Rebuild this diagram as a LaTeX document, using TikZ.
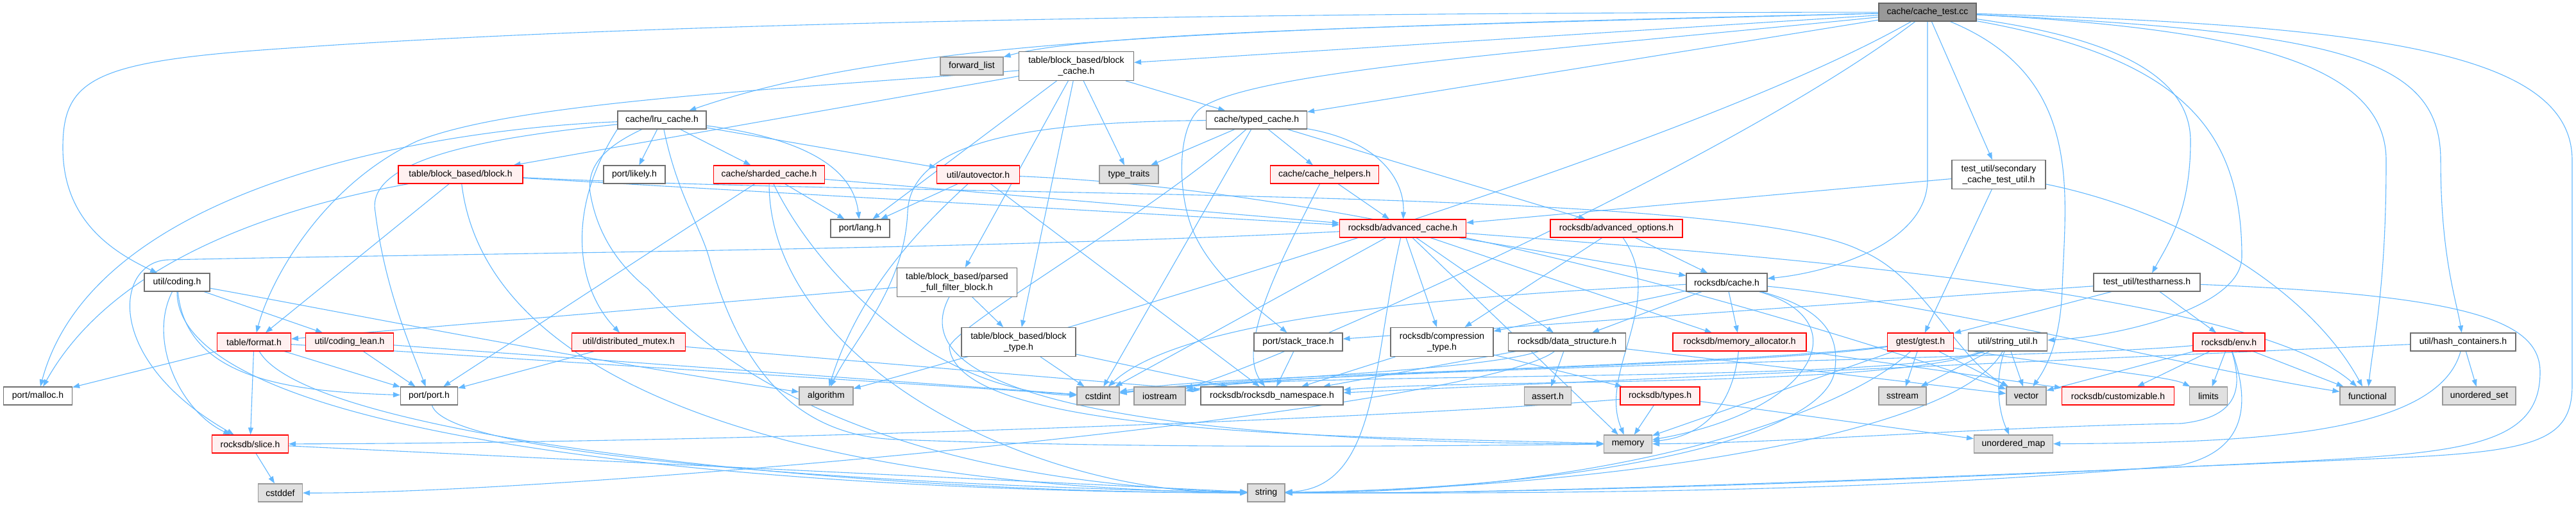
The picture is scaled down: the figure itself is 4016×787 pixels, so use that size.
\documentclass[tikz,border=0pt]{standalone}
\usepackage{fontspec}
\setmainfont{Liberation Sans}
\usetikzlibrary{arrows.meta,backgrounds}
\definecolor{edgeblue}{HTML}{63B8FF}
\definecolor{truncline}{HTML}{FF0000}
\definecolor{truncfill}{HTML}{FFF0F0}
\definecolor{sysfill}{HTML}{E0E0E0}
\definecolor{sysline}{HTML}{999999}
\definecolor{fileline}{HTML}{707070}
\definecolor{mainfill}{HTML}{999999}
\begin{document}
\begin{tikzpicture}[x=1pt,y=-1pt,
  incbox/.style={line width=1.15pt,minimum height=28pt,inner sep=0pt,align=center,font=\fontsize{14}{17}\selectfont},
  file/.style={incbox,draw=fileline,fill=white},
  sysfile/.style={incbox,draw=sysline,fill=sysfill},
  trunc/.style={incbox,draw=truncline,fill=truncfill},
  mainfile/.style={incbox,draw=fileline!90!black,fill=mainfill},
  tall/.style={minimum height=45pt},
  dep/.style={draw=edgeblue,line width=1.1pt,-{Triangle[length=11pt,width=8pt]}}]
\useasboundingbox (0,0) rectangle (4016,787);
% include graph of cache/cache_test.cc
\node[mainfile,minimum width=152pt] (cachetest) at (3005,19) {cache/cache\_test.cc};
\node[sysfile,minimum width=98pt] (fwdlist) at (1515,103) {forward\_list};
\node[file,tall,minimum width=179pt] (blockcache) at (1678,103) {table/block\_based/block\\\_cache.h};
\node[file,minimum width=138pt] (lrucache) at (1032,187) {cache/lru\_cache.h};
\node[file,minimum width=157pt] (typedcache) at (1959,187) {cache/typed\_cache.h};
\node[trunc,minimum width=194pt] (blockh) at (718,272) {table/block\_based/block.h};
\node[file,minimum width=96pt] (likely) at (989,272) {port/likely.h};
\node[trunc,minimum width=173pt] (shardedcache) at (1199,272) {cache/sharded\_cache.h};
\node[trunc,minimum width=129pt] (autovector) at (1525,272) {util/autovector.h};
\node[sysfile,minimum width=92pt] (typetraits) at (1760,272) {type\_traits};
\node[trunc,minimum width=169pt] (cachehelpers) at (2065,272) {cache/cache\_helpers.h};
\node[file,tall,minimum width=146pt] (secutil) at (3116,272) {test\_util/secondary\\\_cache\_test\_util.h};
\node[file,minimum width=92pt] (portlang) at (1341,356) {port/lang.h};
\node[trunc,minimum width=197pt] (advcache) at (2187,356) {rocksdb/advanced\_cache.h};
\node[trunc,minimum width=206pt] (advoptions) at (2520,356) {rocksdb/advanced\_options.h};
\node[file,minimum width=102pt] (coding) at (276,440) {util/coding.h};
\node[file,tall,minimum width=187pt] (parsedfilter) at (1492,440) {table/block\_based/parsed\\\_full\_filter\_block.h};
\node[file,minimum width=126pt] (rdbcache) at (2692,440) {rocksdb/cache.h};
\node[file,minimum width=166pt] (testharness) at (3347,440) {test\_util/testharness.h};
\node[trunc,minimum width=115pt] (tableformat) at (396,533) {table/format.h};
\node[trunc,minimum width=137pt] (codinglean) at (545,533) {util/coding\_lean.h};
\node[trunc,minimum width=177pt] (distmutex) at (980,533) {util/distributed\_mutex.h};
\node[file,tall,minimum width=178pt] (blocktype) at (1588,533) {table/block\_based/block\\\_type.h};
\node[file,minimum width=138pt] (stacktrace) at (2024,533) {port/stack\_trace.h};
\node[file,tall,minimum width=160pt] (comptype) at (2248,533) {rocksdb/compression\\\_type.h};
\node[file,minimum width=183pt] (datastruct) at (2443,533) {rocksdb/data\_structure.h};
\node[trunc,minimum width=208pt] (memalloc) at (2712,533) {rocksdb/memory\_allocator.h};
\node[trunc,minimum width=103pt] (gtest) at (2994,533) {gtest/gtest.h};
\node[file,minimum width=123pt] (stringutil) at (3130,533) {util/string\_util.h};
\node[trunc,minimum width=112pt] (envh) at (3475,533) {rocksdb/env.h};
\node[file,minimum width=164pt] (hashcont) at (3840,533) {util/hash\_containers.h};
\node[file,minimum width=107pt] (portmalloc) at (59,617) {port/malloc.h};
\node[file,minimum width=89pt] (portport) at (669,617) {port/port.h};
\node[sysfile,minimum width=84pt] (algorithm) at (1288,617) {algorithm};
\node[sysfile,minimum width=66pt] (cstdint) at (1712,617) {cstdint};
\node[sysfile,minimum width=80pt] (iostream) at (1808,617) {iostream};
\node[file,minimum width=222pt] (rdbns) at (1983,617) {rocksdb/rocksdb\_namespace.h};
\node[sysfile,minimum width=73pt] (asserth) at (2413,617) {assert.h};
\node[trunc,minimum width=124pt] (rdbtypes) at (2588,617) {rocksdb/types.h};
\node[sysfile,minimum width=74pt] (sstream) at (2966,617) {sstream};
\node[sysfile,minimum width=62pt] (vector) at (3159,617) {vector};
\node[trunc,minimum width=175pt] (customizable) at (3302,617) {rocksdb/customizable.h};
\node[sysfile,minimum width=59pt] (limits) at (3443,617) {limits};
\node[sysfile,minimum width=86pt] (functional) at (3691,617) {functional};
\node[sysfile,minimum width=114pt] (uset) at (3865,617) {unordered\_set};
\node[trunc,minimum width=119pt] (slice) at (390,692) {rocksdb/slice.h};
\node[sysfile,minimum width=75pt] (memory) at (2538,692) {memory};
\node[sysfile,minimum width=123pt] (umap) at (3139,692) {unordered\_map};
\node[sysfile,minimum width=69pt] (cstddef) at (437,768) {cstddef};
\node[sysfile,minimum width=58pt] (stdstring) at (1974,768) {string};
\begin{scope}[on background layer]
% cache/cache_test.cc
\foreach \t in {blockcache,typedcache,secutil}
  \draw[dep] (cachetest) -- (\t);
\draw[dep] (cachetest) .. controls (2200,40) and (1700,50) .. (fwdlist);
\draw[dep] (cachetest) .. controls (1900,45) and (1400,60) .. (lrucache);
\draw[dep] (cachetest.south) -- (3005,280) .. controls (3005,380) and (2850,425) .. (rdbcache);
\draw[dep] (cachetest) .. controls (3300,60) and (3415,120) .. (3415,220) .. controls (3415,330) and (3380,380) .. (testharness);
\draw[dep] (cachetest) .. controls (3500,45) and (3720,100) .. (3720,250) .. controls (3720,450) and (3700,530) .. (functional);
\draw[dep] (cachetest) .. controls (3650,50) and (3805,90) .. (3805,250) .. controls (3805,400) and (3830,470) .. (hashcont);
\draw[dep] (cachetest) .. controls (3400,90) and (3495,200) .. (3495,400) .. controls (3495,480) and (3300,525) .. (stringutil);
\draw[dep] (cachetest) .. controls (3250,120) and (3220,300) .. (3215,450) .. controls (3212,540) and (3185,580) .. (vector);
\draw[dep] (cachetest) .. controls (3700,40) and (4010,80) .. (4010,250) -- (4010,600) .. controls (4010,690) and (3950,705) .. (3700,715) .. controls (3000,745) and (2400,770) .. (stdstring);
\draw[dep] (cachetest) .. controls (2700,250) and (2000,560) .. (iostream);
\draw[dep] (cachetest) .. controls (2600,250) and (1500,560) .. (algorithm);
\draw[dep] (cachetest) .. controls (2400,80) and (1950,110) .. (1870,170) .. controls (1835,200) and (1835,300) .. (1860,360) .. controls (1890,430) and (1960,480) .. (stacktrace);
\draw[dep] (cachetest) .. controls (1500,20) and (800,50) .. (450,75) .. controls (150,95) and (98,120) .. (98,230) .. controls (98,340) and (170,390) .. (coding);
% cache/lru_cache.h
\foreach \t in {shardedcache,likely,autovector}
  \draw[dep] (lrucache) -- (\t);
\draw[dep] (lrucache) .. controls (1250,215) and (1330,260) .. (portlang);
\draw[dep] (lrucache.south west) .. controls (880,330) and (900,450) .. (distmutex);
\draw[dep] (lrucache) .. controls (700,200) and (150,280) .. (portmalloc);
\draw[dep] (lrucache) .. controls (750,215) and (570,250) .. (585,330) .. controls (600,450) and (640,540) .. (portport);
\draw[dep] (lrucache) .. controls (940,230) and (915,260) .. (920,300) .. controls (930,360) and (960,410) .. (1010,450) .. controls (1110,560) and (1350,750) .. (stdstring);
\draw[dep] (lrucache) .. controls (1055,300) and (1090,350) .. (1105,400) .. controls (1150,560) and (1230,680) .. (1400,685) .. controls (1800,700) and (2200,695) .. (memory);
% cache/typed_cache.h
\foreach \t in {typetraits,cachehelpers,cstdint,advoptions}
  \draw[dep] (typedcache) -- (\t);
\draw[dep] (typedcache) .. controls (2150,220) and (2190,280) .. (advcache);
\draw[dep] (typedcache) .. controls (1600,190) and (1420,220) .. (1415,330) .. controls (1410,450) and (1330,530) .. (algorithm);
\draw[dep] (typedcache) .. controls (1800,330) and (1500,500) .. (1480,540) .. controls (1490,680) and (2100,680) .. (memory);
% table/block_based/block_cache.h
\foreach \t in {typetraits,typedcache,portlang,parsedfilter,blocktype,blockh}
  \draw[dep] (blockcache) -- (\t);
\draw[dep] (blockcache) .. controls (1200,140) and (800,160) .. (650,220) .. controls (500,290) and (420,440) .. (tableformat);
% table/block_based/block.h
\draw[dep] (blockh) .. controls (450,320) and (180,400) .. (portmalloc);
\draw[dep] (blockh) -- (advcache);
\draw[dep] (blockh) -- (tableformat);
\draw[dep] (blockh) .. controls (1500,310) and (2700,290) .. (2900,390) .. controls (3000,430) and (3050,560) .. (vector);
\draw[dep] (blockh) .. controls (760,620) and (1300,760) .. (stdstring);
% cache/sharded_cache.h
\foreach \t in {portlang,portport,advcache}
  \draw[dep] (shardedcache) -- (\t);
\draw[dep] (shardedcache) .. controls (1270,420) and (1450,610) .. (cstdint);
\draw[dep] (shardedcache) .. controls (1200,560) and (1600,770) .. (stdstring);
% util/autovector.h
\draw[dep] (autovector) -- (portlang);
\draw[dep] (autovector) -- (rdbns);
\draw[dep] (autovector) .. controls (1440,350) and (1340,450) .. (algorithm);
\draw[dep] (autovector) .. controls (2200,300) and (2900,530) .. (vector);
% cache/cache_helpers.h
\draw[dep] (cachehelpers) -- (advcache);
\draw[dep] (cachehelpers) .. controls (2000,400) and (1925,540) .. (rdbns);
% test_util/secondary_cache_test_util.h
\draw[dep] (secutil) -- (advcache);
\draw[dep] (secutil) -- (gtest);
\draw[dep] (secutil) .. controls (3400,330) and (3600,450) .. (functional);
% rocksdb/advanced_cache.h
\foreach \t in {rdbcache,comptype,datastruct,memalloc,cstdint,memory}
  \draw[dep] (advcache) -- (\t);
\draw[dep] (advcache) .. controls (2700,395) and (3500,450) .. (functional);
\draw[dep] (advcache) .. controls (1500,390) and (700,395) .. (260,405) .. controls (180,410) and (160,560) .. (slice);
\draw[dep] (advcache) .. controls (2140,560) and (2150,760) .. (stdstring);
% rocksdb/advanced_options.h
\draw[dep] (advoptions) -- (rdbcache);
\draw[dep] (advoptions) -- (comptype);
\draw[dep] (advoptions) .. controls (2600,470) and (2490,580) .. (memory);
% util/coding.h
\draw[dep] (coding) -- (codinglean);
\draw[dep] (coding) .. controls (230,530) and (280,640) .. (slice);
\draw[dep] (coding) .. controls (290,590) and (450,610) .. (portport);
\draw[dep] (coding) .. controls (500,480) and (900,560) .. (algorithm);
\draw[dep] (coding) .. controls (276,700) and (1300,768) .. (stdstring);
% table/block_based/parsed_full_filter_block.h
\draw[dep] (parsedfilter) -- (blocktype);
\draw[dep] (parsedfilter) -- (tableformat);
\draw[dep] (parsedfilter) .. controls (1380,650) and (2000,690) .. (memory);
% rocksdb/cache.h
\foreach \t in {comptype,datastruct,memalloc}
  \draw[dep] (rdbcache) -- (\t);
\draw[dep] (rdbcache) .. controls (2300,460) and (1850,490) .. (cstdint);
\draw[dep] (rdbcache) .. controls (3000,470) and (3450,580) .. (functional);
\draw[dep] (rdbcache) .. controls (2900,500) and (2830,640) .. (memory);
\draw[dep] (rdbcache) .. controls (2840,480) and (2870,520) .. (2860,580) .. controls (2840,680) and (2500,760) .. (stdstring);
% test_util/testharness.h
\foreach \t in {envh,gtest,stacktrace}
  \draw[dep] (testharness) -- (\t);
\draw[dep] (testharness) .. controls (3850,460) and (3960,500) .. (3960,580) .. controls (3960,690) and (3850,705) .. (3600,718) .. controls (3000,748) and (2400,770) .. (stdstring);
% table/format.h
\foreach \t in {portmalloc,slice,portport,cstdint}
  \draw[dep] (tableformat) -- (\t);
\draw[dep] (tableformat) .. controls (480,680) and (1300,768) .. (stdstring);
% util/coding_lean.h, util/distributed_mutex.h, block_type.h, stack_trace.h
\draw[dep] (codinglean) -- (portport);
\draw[dep] (codinglean) -- (cstdint);
\draw[dep] (distmutex) -- (portport);
\draw[dep] (distmutex) -- (rdbns);
\draw[dep] (blocktype) -- (cstdint);
\draw[dep] (blocktype) -- (rdbns);
\draw[dep] (stacktrace) -- (rdbns);
% rocksdb/compression_type.h, rocksdb/data_structure.h
\draw[dep] (comptype) -- (rdbns);
\draw[dep] (comptype) -- (rdbtypes);
\foreach \t in {asserth,vector,rdbns}
  \draw[dep] (datastruct) -- (\t);
\draw[dep] (datastruct) .. controls (2300,580) and (1900,590) .. (cstdint);
\draw[dep] (datastruct) .. controls (2300,640) and (900,770) .. (cstddef);
% rocksdb/memory_allocator.h
\draw[dep] (memalloc) -- (customizable);
\draw[dep] (memalloc) .. controls (2700,640) and (2650,680) .. (memory);
% gtest/gtest.h
\foreach \t in {sstream,vector,memory}
  \draw[dep] (gtest) -- (\t);
\draw[dep] (gtest) .. controls (2700,575) and (1900,580) .. (cstdint);
\draw[dep] (gtest) .. controls (2700,570) and (2000,580) .. (iostream);
\draw[dep] (gtest) .. controls (3200,570) and (3380,585) .. (limits);
\draw[dep] (gtest) .. controls (2870,650) and (2500,768) .. (stdstring);
% util/string_util.h
\draw[dep] (stringutil) -- (sstream);
\draw[dep] (stringutil) -- (vector);
\draw[dep] (stringutil) .. controls (2950,600) and (2000,575) .. (cstdint);
\draw[dep] (stringutil) .. controls (2950,605) and (2300,590) .. (rdbns);
\draw[dep] (stringutil) .. controls (3110,590) and (3115,640) .. (umap);
\draw[dep] (stringutil) .. controls (3050,680) and (2500,760) .. (stdstring);
% rocksdb/env.h
\foreach \t in {customizable,limits,functional,vector}
  \draw[dep] (envh) -- (\t);
\draw[dep] (envh) .. controls (3200,560) and (2100,570) .. (cstdint);
\draw[dep] (envh) .. controls (3495,600) and (3495,650) .. (3400,660) .. controls (3100,665) and (2800,690) .. (memory);
\draw[dep] (envh) .. controls (3505,620) and (3510,700) .. (3400,725) .. controls (3000,760) and (2600,770) .. (stdstring);
% util/hash_containers.h
\draw[dep] (hashcont) -- (uset);
\draw[dep] (hashcont) -- (rdbns);
\draw[dep] (hashcont) .. controls (3800,680) and (3500,690) .. (umap);
% rocksdb/types.h, rocksdb/slice.h, port/port.h
\draw[dep] (rdbtypes) -- (memory);
\draw[dep] (rdbtypes) -- (umap);
\draw[dep] (rdbtypes) .. controls (2200,650) and (1200,690) .. (slice);
\draw[dep] (slice) -- (cstddef);
\draw[dep] (slice) -- (stdstring);
\draw[dep] (portport) .. controls (700,720) and (1500,760) .. (stdstring);
\end{scope}
\end{tikzpicture}
\end{document}
